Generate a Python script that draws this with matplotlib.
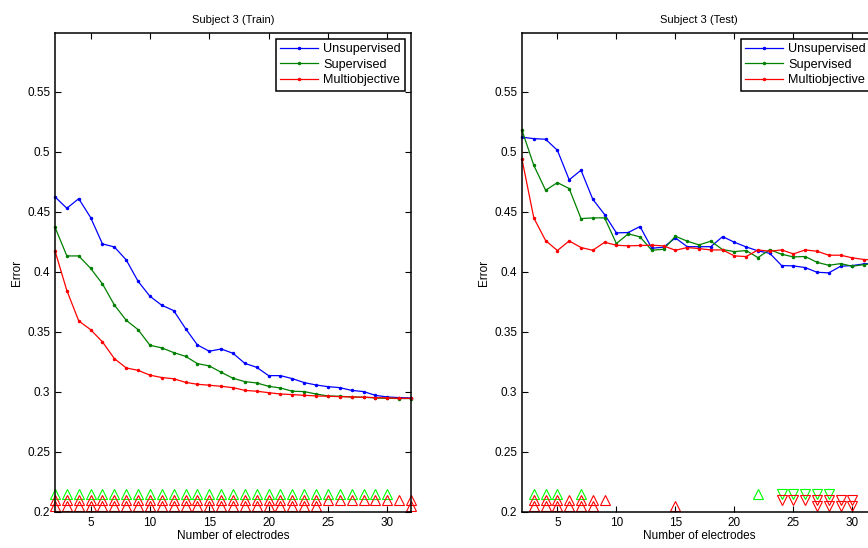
import matplotlib
matplotlib.use("Agg")
import matplotlib.pyplot as plt

plt.rcParams['font.family'] = ['Liberation Sans', 'DejaVu Sans']

n_elec = list(range(2, 33))

# Subject 3 (Train)
train_unsup = [0.4625, 0.453, 0.461, 0.4453, 0.4233, 0.4208, 0.410, 0.3922, 0.3797, 0.3722,
               0.3678, 0.3528, 0.3392, 0.3339, 0.3358, 0.3322, 0.3238, 0.3205, 0.3136, 0.3136,
               0.3111, 0.3078, 0.3058, 0.3044, 0.3036, 0.3013, 0.3003, 0.2972, 0.2958, 0.2953, 0.295]
train_sup = [0.4372, 0.4133, 0.4133, 0.403, 0.390, 0.3725, 0.3597, 0.3519, 0.3389, 0.3367,
             0.3328, 0.3297, 0.3236, 0.3217, 0.3164, 0.3114, 0.3086, 0.3075, 0.3047, 0.3033,
             0.3006, 0.3003, 0.2983, 0.2967, 0.2964, 0.2958, 0.2956, 0.295, 0.2947, 0.2945, 0.2945]
train_multi = [0.4175, 0.3844, 0.3592, 0.3519, 0.3417, 0.3278, 0.320, 0.318, 0.314, 0.312,
               0.311, 0.308, 0.3064, 0.3056, 0.3047, 0.3036, 0.3013, 0.3006, 0.2994, 0.2983,
               0.2978, 0.2972, 0.2967, 0.2964, 0.2961, 0.2958, 0.2956, 0.2953, 0.295, 0.2947, 0.2947]

# Subject 3 (Test)
test_unsup = [0.5122, 0.511, 0.5105, 0.5013, 0.4767, 0.4847, 0.4605, 0.4478, 0.4325, 0.4328,
              0.4378, 0.4197, 0.4206, 0.4283, 0.421, 0.421, 0.421, 0.4294, 0.4247, 0.4208,
              0.4175, 0.4155, 0.4053, 0.405, 0.4036, 0.3997, 0.3992, 0.4047, 0.4053, 0.4067, 0.407]
test_sup = [0.518, 0.4888, 0.468, 0.4744, 0.4694, 0.4444, 0.445, 0.445, 0.4236, 0.4317,
            0.4292, 0.418, 0.4189, 0.4297, 0.4256, 0.4225, 0.4256, 0.4186, 0.4169, 0.4178,
            0.4119, 0.4186, 0.4147, 0.4125, 0.4128, 0.408, 0.4055, 0.4069, 0.4047, 0.4061, 0.407]
test_multi = [0.4938, 0.445, 0.4261, 0.4178, 0.4258, 0.4203, 0.418, 0.4247, 0.4222, 0.4217,
              0.422, 0.4222, 0.4217, 0.418, 0.4203, 0.4194, 0.4183, 0.4183, 0.4133, 0.4128,
              0.4183, 0.4172, 0.4183, 0.415, 0.4183, 0.4172, 0.4139, 0.4139, 0.4117, 0.4103, 0.410]

# significance markers: x positions per row
train_green_up = list(range(2, 31))
train_red_up_a = list(range(2, 33))
train_red_up_b = list(range(2, 25)) + [32]

test_green_up = [3, 4, 5, 7, 22]
test_red_up_a = [3, 4, 5, 6, 7, 8, 9]
test_red_up_b = [3, 4, 5, 6, 7, 8, 15]
test_green_down = [24, 25, 26, 27, 28]
test_red_down_a = [24, 25, 26, 27, 28, 29, 30]
test_red_down_b = [27, 28, 29, 30]

lvl_green = 0.215
lvl_red_a = 0.21
lvl_red_b = 0.205

yticks = [0.2, 0.25, 0.3, 0.35, 0.4, 0.45, 0.5, 0.55]
ytick_labels = ['0.2', '0.25', '0.3', '0.35', '0.4', '0.45', '0.5', '0.55']
xticks = [5, 10, 15, 20, 25, 30]

BLUE = (0, 0, 1)
GREEN = (0, 0.5, 0)
RED = (1, 0, 0)
LGREEN = (0, 1, 0)


def tri(ax, xs, level, color, marker):
    ax.plot(xs, [level] * len(xs), linestyle='none', marker=marker, markersize=7,
            markerfacecolor='none', markeredgecolor=color, markeredgewidth=0.8)


def draw_panel(ax, title, unsup, sup, multi):
    ax.plot(n_elec, unsup, color=BLUE, lw=0.9, marker='.', markersize=3, label='Unsupervised')
    ax.plot(n_elec, sup, color=GREEN, lw=0.9, marker='.', markersize=3, label='Supervised')
    ax.plot(n_elec, multi, color=RED, lw=0.9, marker='.', markersize=3, label='Multiobjective')
    ax.set_xlim(2, 32)
    ax.set_ylim(0.2, 0.599)
    ax.set_xticks(xticks)
    ax.set_yticks(yticks)
    ax.set_yticklabels(ytick_labels)
    ax.tick_params(direction='in', top=True, right=True, length=4, width=0.8, labelsize=8.5)
    for s in ax.spines.values():
        s.set_linewidth(1.1)
    ax.set_title(title, fontsize=8, pad=7)
    ax.set_xlabel('Number of electrodes', fontsize=8.5, labelpad=1)
    ax.set_ylabel('Error', fontsize=8.5, labelpad=3)
    leg = ax.legend(loc='upper right', fontsize=9.1, fancybox=False, framealpha=1,
                    edgecolor='black', borderpad=0.35, labelspacing=0.28, handlelength=3.0,
                    handletextpad=0.4, borderaxespad=0.45)
    leg.get_frame().set_linewidth(1.1)


fig = plt.figure(figsize=(8.68, 5.48), dpi=100)
ax1 = fig.add_axes([55 / 868, 36 / 548, 356 / 868, 479 / 548])
ax2 = fig.add_axes([522 / 868, 36 / 548, 354 / 868, 479 / 548])

draw_panel(ax1, 'Subject 3 (Train)', train_unsup, train_sup, train_multi)
tri(ax1, train_green_up, lvl_green, LGREEN, '^')
tri(ax1, train_red_up_a, lvl_red_a, RED, '^')
tri(ax1, train_red_up_b, lvl_red_b, RED, '^')

draw_panel(ax2, 'Subject 3 (Test)', test_unsup, test_sup, test_multi)
tri(ax2, test_green_up, lvl_green, LGREEN, '^')
tri(ax2, test_red_up_a, lvl_red_a, RED, '^')
tri(ax2, test_red_up_b, lvl_red_b, RED, '^')
tri(ax2, test_green_down, lvl_green, LGREEN, 'v')
tri(ax2, test_red_down_a, lvl_red_a, RED, 'v')
tri(ax2, test_red_down_b, lvl_red_b, RED, 'v')

for a in (ax1, ax2):
    for ln in a.lines:
        ln.set_clip_on(False)

fig.savefig('out.png', dpi=100)
